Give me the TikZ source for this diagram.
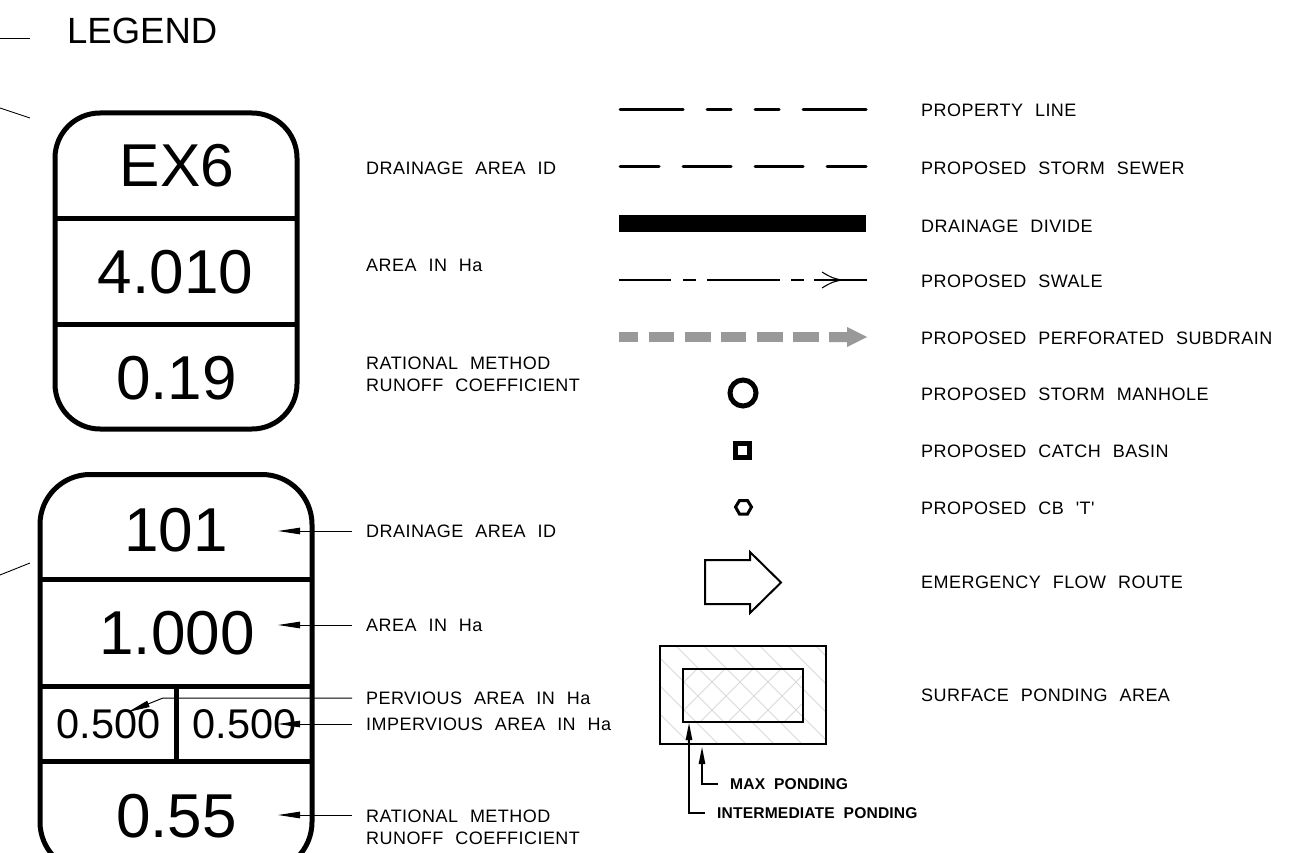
\documentclass[tikz,border=0pt]{standalone}
\usepackage{fontspec}
\setmainfont{Liberation Sans}
\newfontfamily\cadfont[LetterSpace=2.5,WordSpace=2.2]{Liberation Sans}
\newfontfamily\cadbold[LetterSpace=1,WordSpace=2]{Liberation Sans Bold}
\usetikzlibrary{arrows.meta,calc}
\tikzset{
  x=1pt,y=-1pt,
  heavy/.style={line width=5pt,black},
  cell/.style={inner sep=0pt,anchor=center,font=\fontsize{62}{62}\selectfont},
  smallcell/.style={inner sep=0pt,anchor=center,font=\fontsize{41.5}{41.5}\selectfont},
  lbl/.style={inner sep=0pt,anchor=west,align=left,font=\cadfont\fontsize{18}{22}\selectfont},
  boldlbl/.style={inner sep=0pt,anchor=west,font=\cadbold\fontsize{15.6}{18}\selectfont},
  leader/.style={line width=1pt,-{Stealth[length=22pt,width=6.5pt,inset=0pt]}},
  pond/.style={line width=2.4pt,-{Stealth[length=18pt,width=6pt,inset=0pt]}},
  seg/.style={line width=3pt,line cap=round},
  thinseg/.style={line width=1.1pt},
  hatch/.style={line width=1pt,black!15},
}
\begin{document}
\begin{tikzpicture}
\useasboundingbox (0,0) rectangle (1314,853);
\clip (0,0) rectangle (1314,853);

% stubs
\coordinate (s1a) at (0,38); \coordinate (s1b) at (30,38);
\coordinate (s2a) at (0,108); \coordinate (s2b) at (30,118);
\coordinate (s3a) at (0,575); \coordinate (s3b) at (30,563);
\draw[line width=.9pt] (s1a)--(s1b);
\draw[line width=.9pt] (s2a)--(s2b);
\draw[line width=.9pt] (s3a)--(s3b);

\node[inner sep=0pt,anchor=west,font=\fontsize{36.5}{36.5}\selectfont] (legend) at (67,31) {LEGEND};

% box 1
\draw[heavy,rounded corners=45pt] (55,113) rectangle (297,429);
\draw[heavy] (55,219)--(297,219);
\draw[heavy] (55,324)--(297,324);
\node[cell,font=\fontsize{60.5}{60.5}\selectfont] (ex) at (177,166) {EX6};
\node[cell] (a1) at (175.5,272) {4.010};
\node[cell] (c1) at (176.5,378) {0.19};

% box 2
\draw[heavy,rounded corners=50pt] (40,474.5) rectangle (312,872);
\draw[heavy] (40,579)--(312,579);
\draw[heavy] (40,686)--(312,686);
\draw[heavy] (40,761.5)--(312,761.5);
\draw[heavy] (176.5,686)--(176.5,761.5);
\node[cell] (id2) at (176,530) {101};
\node[cell] (a2) at (177,633) {1.000};
\node[smallcell] (p2) at (108.5,724) {0.500};
\node[smallcell] (i2) at (244.5,724) {0.500};
\node[cell] (c2) at (176.5,816) {0.55};

% left labels
\node[lbl] (t1) at (366,168) {DRAINAGE AREA ID};
\node[lbl] (t2) at (366,265) {AREA IN Ha};
\node[lbl] (t3) at (366,374) {RATIONAL METHOD\\RUNOFF COEFFICIENT};
\node[lbl] (u1) at (366,531) {DRAINAGE AREA ID};
\node[lbl] (u2) at (366,625) {AREA IN Ha};
\node[lbl] (u3) at (366,698) {PERVIOUS AREA IN Ha};
\node[lbl] (u4) at (366,724) {IMPERVIOUS AREA IN Ha};
\node[lbl] (u5) at (366,827) {RATIONAL METHOD\\RUNOFF COEFFICIENT};

% leaders
\coordinate (l1a) at (352,531); \coordinate (l1b) at (278,531);
\coordinate (l2a) at (352,625); \coordinate (l2b) at (278,625);
\coordinate (l3a) at (352,698); \coordinate (l3m) at (163,698); \coordinate (l3b) at (128,712);
\coordinate (l4a) at (352,724); \coordinate (l4b) at (278,724);
\coordinate (l5a) at (352,815); \coordinate (l5b) at (278,815);
\draw[leader] (l1a)--(l1b);
\draw[leader] (l2a)--(l2b);
\draw[leader] (l3a)--(l3m)--(l3b);
\draw[leader] (l4a)--(l4b);
\draw[leader] (l5a)--(l5b);

% line samples
\foreach \a/\b in {620/683,707/731,755/779,803/866}{\draw[seg] (\a,110)--(\b,110);}
\foreach \a/\b in {620/659,683/731,755/803,827/866}{\draw[seg] (\a,167)--(\b,167);}
\fill[black] (619,215) rectangle (866,232);
\foreach \a/\b in {619/671,683/696,707/780,791/804,814/867}{\draw[thinseg] (\a,280)--(\b,280);}
\draw[line width=1.1pt] (822,272) .. controls (830,277) and (836,280) .. (845,280) .. controls (836,280) and (830,283) .. (822,288);
\foreach \a/\b in {619/638,649/674,685/711,721/746,757/783,793/819}{\fill[black!40] (\a,332) rectangle (\b,342);}
\fill[black!40] (829,332)--(847,332)--(847,327)--(867,337)--(847,347)--(847,342)--(829,342)--cycle;

% symbols
\draw[line width=5pt] (743,393) circle (13);
\draw[line width=5pt] (735.5,443) rectangle (749.5,457);
\draw[line width=3pt] (735.5,507)--(739.5,500.5)--(747.5,500.5)--(751.5,507)--(747.5,514)--(739.5,514)--cycle;
\draw[line width=2pt,line join=miter] (705,560)--(750,560)--(750,552)--(781,582.5)--(750,613)--(750,604)--(705,604)--cycle;

% ponding
\begin{scope}
\clip (660,646) rectangle (826,744);
\foreach \n in {-6,...,10}{\draw[hatch] (30+28*\n+640,640)--(30+28*\n+760,760);}
\end{scope}
\begin{scope}
\clip (683,669) rectangle (803,722);
\foreach \n in {-3,...,9}{\draw[hatch] (1422+28*\n-640,640)--(1422+28*\n-760,760);}
\end{scope}
\draw[line width=2.2pt] (660,646) rectangle (826,744);
\draw[line width=2.2pt] (683,669) rectangle (803,722);
\coordinate (p1a) at (705,813); \coordinate (p1m) at (689,813); \coordinate (p1b) at (689,722);
\coordinate (p2a) at (718,784); \coordinate (p2m) at (702,784); \coordinate (p2b) at (702,746);
\draw[pond] (p1a)--(p1m)--(p1b);
\draw[pond] (p2a)--(p2m)--(p2b);
\node[boldlbl] (mp) at (730,784) {MAX PONDING};
\node[boldlbl] (ip) at (717,813) {INTERMEDIATE PONDING};

% right labels
\node[lbl] (r1) at (921,110) {PROPERTY LINE};
\node[lbl] (r2) at (921,168) {PROPOSED STORM SEWER};
\node[lbl] (r3) at (921,226) {DRAINAGE DIVIDE};
\node[lbl] (r4) at (921,281) {PROPOSED SWALE};
\node[lbl] (r5) at (921,338) {PROPOSED PERFORATED SUBDRAIN};
\node[lbl] (r6) at (921,394) {PROPOSED STORM MANHOLE};
\node[lbl] (r7) at (921,451) {PROPOSED CATCH BASIN};
\node[lbl] (r8) at (921,508) {PROPOSED CB 'T'};
\node[lbl] (r9) at (921,582) {EMERGENCY FLOW ROUTE};
\node[lbl] (r10) at (921,695) {SURFACE PONDING AREA};
\end{tikzpicture}
\end{document}
